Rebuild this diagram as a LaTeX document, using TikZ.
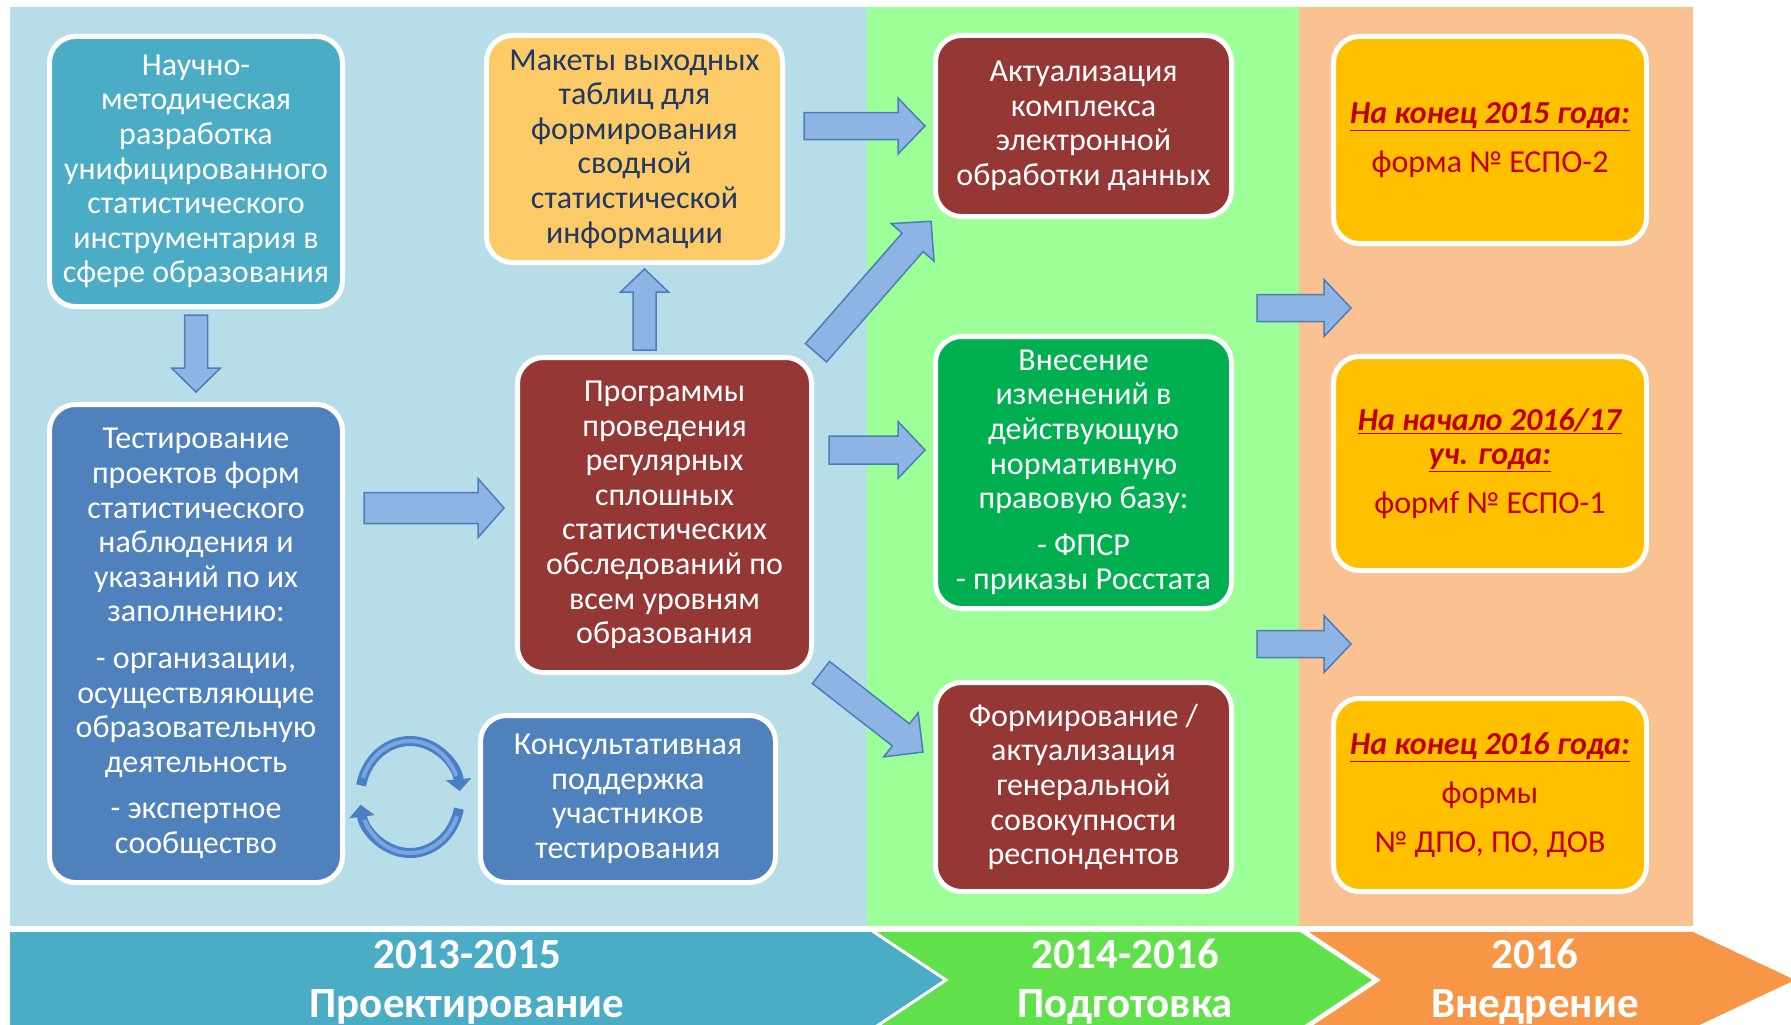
\documentclass[tikz,border=0pt]{standalone}
\usepackage{fontspec}
\setmainfont{Carlito}
\usepackage{tikz}
\usetikzlibrary{calc, arrows.meta}

\definecolor{bgblue}{HTML}{B7DDE8}
\definecolor{bggreen}{HTML}{9CFF98}
\definecolor{bgorange}{HTML}{FAC191}
\definecolor{tealbox}{HTML}{4BACC6}
\definecolor{sandbox}{HTML}{FDCA68}
\definecolor{bluebox}{HTML}{4F81BD}
\definecolor{redbox}{HTML}{953735}
\definecolor{greenbox}{HTML}{00B050}
\definecolor{goldbox}{HTML}{FFC000}
\definecolor{navytext}{HTML}{1F3864}
\definecolor{redtext}{HTML}{C00000}
\definecolor{arrfill}{HTML}{8EB4E3}
\definecolor{arrline}{HTML}{4A7EBB}
\definecolor{cycblue}{HTML}{4A7FC8}
\definecolor{cyclight}{HTML}{7AA6E0}
\definecolor{phgreen}{HTML}{60E14B}
\definecolor{phorange}{HTML}{F79646}

\newcommand{\yearhead}[1]{\underline{\textbf{\textit{#1}}}}

\tikzset{
    shaftw/.store in=\arrshaft, headw/.store in=\arrhead, headl/.store in=\arrlen,
    gaps/.store in=\arrgaps, gapt/.store in=\arrgapt,
    shaftw=13.5pt, headw=28.5pt, headl=27pt, gaps=0pt, gapt=0pt,
}

\begin{document}
\begin{tikzpicture}[x=1pt, y=1pt,
        box/.style={draw=white, line width=5pt, rounded corners=26pt, inner sep=0pt,
            align=center, text=white, font=\fontsize{32pt}{34.6pt}\selectfont},
        goldbox/.style={box, fill=goldbox, text=redtext, minimum width=313pt},
        barrow/.style={draw=arrline, fill=arrfill, line width=1.5pt, line join=miter,
            to path={(\tikztostart) coordinate (ba-s) (\tikztotarget) coordinate (ba-t)
                ($(ba-s)!\arrgaps!(ba-t)$) coordinate (ba-a)
                ($(ba-t)!\arrgapt!(ba-s)$) coordinate (ba-b)
                ($(ba-a)!\arrshaft!90:(ba-b)$)
                -- ($(ba-b)!\arrlen!(ba-a)!\arrshaft!-90:(ba-a)$)
                -- ($(ba-b)!\arrlen!(ba-a)!\arrhead!-90:(ba-a)$)
                -- (ba-b)
                -- ($(ba-b)!\arrlen!(ba-a)!\arrhead!90:(ba-a)$)
                -- ($(ba-b)!\arrlen!(ba-a)!\arrshaft!90:(ba-a)$)
                -- ($(ba-a)!\arrshaft!-90:(ba-b)$) -- cycle}},
        cycarrow/.style={cycblue, line width=10pt, -{Triangle[length=12pt, width=25pt]}},
        cycinner/.style={cyclight, line width=4pt},
        phase/.style={align=center, text=white, inner sep=0pt,
            font=\bfseries\fontsize{43pt}{49pt}\selectfont},
        ]

        \useasboundingbox (0,0) rectangle (1791,-1025);
        \fill[white] (0,0) rectangle (1791,-1025);

        % фон
        \fill[bgblue] (10,-7) rectangle (867,-926);
        \fill[bggreen] (867,-7) rectangle (1299,-926);
        \fill[bgorange] (1299,-7) rectangle (1693,-926);

        % этапы
        \fill[tealbox] (10,-932) -- (871,-932) -- (943,-980) -- (871,-1028) -- (10,-1028) -- cycle;
        \fill[phgreen] (877,-932) -- (1300,-932) -- (1372,-980) -- (1300,-1028) -- (877,-1028) -- (949,-980) -- cycle;
        \fill[phorange] (1309,-932) -- (1693,-932) -- (1795,-980) -- (1693,-1028) -- (1309,-1028) -- (1381,-980) -- cycle;
        \node[phase] (ph1) at (467,-982) {2013-2015\\Проектирование};
        \node[phase] (ph2) at (1125,-982) {2014-2016\\Подготовка};
        \node[phase] (ph3) at (1535,-982) {2016\\Внедрение};

        % блоки
        \node[box, fill=tealbox, minimum width=293pt, minimum height=270pt] (nauch) at (196,-171.5)
            {Научно-\\методическая\\разработка\\унифицированного\\статистического\\инструментария в\\сфере образования};
        \node[box, fill=sandbox, text=navytext, minimum width=296pt, minimum height=227pt] (makety) at (634.5,-149)
            {Макеты выходных\\таблиц для\\формирования\\сводной\\статистической\\информации};
        \node[box, fill=bluebox, minimum width=293pt, minimum height=478pt] (test) at (196,-643.5)
            {Тестирование\\проектов форм\\статистического\\наблюдения и\\указаний по их\\заполнению:\\[12pt]
             - организации,\\осуществляющие\\образовательную\\деятельность\\[12pt]- экспертное\\сообщество};
        \node[box, fill=redbox, minimum width=294pt, minimum height=315pt] (progr) at (664.5,-515)
            {Программы\\проведения\\регулярных\\сплошных\\статистических\\обследований по\\всем уровням\\образования};
        \node[box, fill=bluebox, minimum width=295pt, minimum height=167pt] (konsult) at (628,-799)
            {Консультативная\\поддержка\\участников\\тестирования};
        \node[box, fill=redbox, minimum width=296pt, minimum height=181pt] (aktual) at (1083.5,-126)
            {Актуализация\\комплекса\\электронной\\обработки данных};
        \node[box, fill=greenbox, minimum width=296pt, minimum height=272pt] (vnesen) at (1083.5,-472.5)
            {Внесение\\изменений в\\действующую\\нормативную\\правовую базу:\\[12pt]- ФПСР\\- приказы Росстата};
        \node[box, fill=redbox, minimum width=296pt, minimum height=209pt] (formir) at (1083.5,-787)
            {Формирование /\\актуализация\\генеральной\\совокупности\\респондентов};
        \node[goldbox, minimum height=207pt] (y2015) at (1490,-140)
            {\yearhead{На конец 2015 года:}\\[14pt]форма № ЕСПО-2};
        \node[goldbox, minimum height=214pt] (y2016a) at (1490,-463.5)
            {\yearhead{На начало 2016/17}\\\yearhead{уч. года:}\\[14pt]формf № ЕСПО-1};
        \node[goldbox, minimum height=193pt] (y2016b) at (1490,-795)
            {\yearhead{На конец 2016 года:}\\[14pt]формы\\[14pt]№ ДПО, ПО, ДОВ};

        % стрелки
        \draw[barrow, shaftw=11.5pt, headw=24.5pt, headl=24pt, gaps=6pt, gapt=10pt] (nauch.south) to (test.north);
        \draw[barrow, shaftw=11.5pt, headw=24pt, headl=23pt, gaps=5pt, gapt=4pt] ([xshift=-20pt]progr.north) to ([xshift=10pt]makety.south);
        \draw[barrow, shaftw=15.5pt, headw=29.5pt, headl=26pt, gaps=19pt, gapt=11pt] ([yshift=135.5pt]test.east) to ([yshift=7pt]progr.west);
        \draw[barrow, headw=28pt, gaps=19pt, gapt=8pt] ([yshift=23pt]makety.east) to (aktual.west);
        \draw[barrow, shaftw=14pt, headl=28pt, gaps=3pt, gapt=3pt] (progr.north east) to (aktual.south west);
        \draw[barrow, shaftw=14pt, gaps=15pt, gapt=8pt] ([yshift=65pt]progr.east) to ([yshift=22.5pt]vnesen.west);
        \draw[barrow, shaftw=14pt, headw=28pt, headl=28pt] ([xshift=7pt, yshift=2.5pt]progr.south east) to ([xshift=-10pt, yshift=35pt]formir.west);
        \draw[barrow, gaps=23pt] ([yshift=26pt]vnesen.north east) to ([xshift=20pt, yshift=46pt]y2016a.north west);
        \draw[barrow, gaps=23pt] ([yshift=-33pt]vnesen.south east) to ([xshift=20pt, yshift=52pt]y2016b.north west);

        % цикл
        \coordinate (cyc) at (410,-797);
        \draw[cycarrow] ([shift={(168:50pt and 56pt)}]cyc) arc[start angle=168, end angle=6, x radius=50pt, y radius=56pt];
        \draw[cycinner] ([shift={(160:50pt and 56pt)}]cyc) arc[start angle=160, end angle=22, x radius=50pt, y radius=56pt];
        \draw[cycarrow] ([shift={(-12:50pt and 56pt)}]cyc) arc[start angle=-12, end angle=-172, x radius=50pt, y radius=56pt];
        \draw[cycinner] ([shift={(-20:50pt and 56pt)}]cyc) arc[start angle=-20, end angle=-156, x radius=50pt, y radius=56pt];

\end{tikzpicture}
\end{document}
